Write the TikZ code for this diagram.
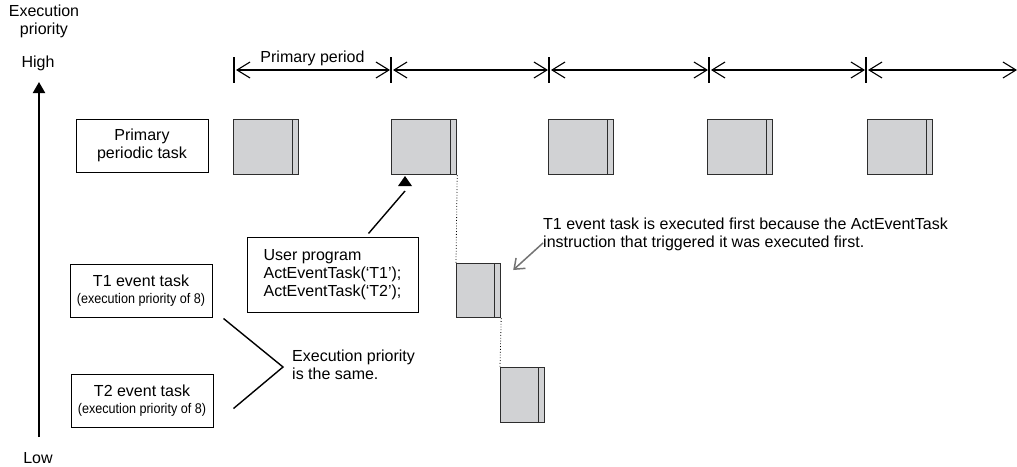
\documentclass[tikz,border=0pt]{standalone}
\usepackage{fontspec}
\setmainfont{Liberation Sans}
\newfontfamily\condfont[FakeStretch=0.9]{Liberation Sans}
\usepackage{xcolor}
\usetikzlibrary{arrows.meta,positioning}

\definecolor{blkgray}{RGB}{209,210,212}
\definecolor{blkedge}{RGB}{45,45,45}
\definecolor{notegray}{RGB}{115,115,115}

\newcommand{\bigtxt}{\fontsize{16}{18}\selectfont}
\newcommand{\smalltxt}{\condfont\fontsize{14}{15}\selectfont}

\begin{document}
\begin{tikzpicture}[x=1pt,y=-1pt,
    txt/.style={font=\bigtxt,inner sep=0pt,align=center},
    taskbox/.style={draw,line width=1pt,font=\bigtxt,align=center,
                    inner sep=0pt,minimum height=53pt},
    runblk/.style={draw=blkedge,fill=blkgray,line width=1.2pt,inner sep=0pt,
                   anchor=north west,minimum height=55pt},
    periodarr/.style={line width=1.1pt,shorten <=2pt,shorten >=1pt,
                      {Straight Barb[length=13pt,width=16pt]}-{Straight Barb[length=13pt,width=16pt]}}]
  \useasboundingbox (0,0) rectangle (1017,466);

  % priority axis
  \node[txt] (axlbl) at (44,21) {Execution\\priority};
  \node[txt] (high) at (38,63) {High};
  \node[txt] (low) at (38,458) {Low};
  \coordinate (axlo) at (39,437);
  \coordinate (axhi) at (39,82);
  \draw[line width=2pt,-{Triangle[length=11pt,width=12pt]}] (axlo) -- (axhi);

  % primary period marks
  \foreach \x [count=\i] in {234,391,549,709,866} {
    \coordinate (t\i) at (\x,70);
    \draw[line width=1.1pt] (\x,57) -- (\x,83);
  }
  \coordinate (tend) at (1017,70);
  \draw[periodarr] (t1) -- (t2) node[midway,above=4pt,txt] (plbl) {Primary period};
  \draw[periodarr] (t2) -- (t3);
  \draw[periodarr] (t3) -- (t4);
  \draw[periodarr] (t4) -- (t5);
  \draw[periodarr,shorten >=0pt] (t5) -- (tend);

  % task labels
  \node[taskbox,minimum width=132pt] (ptask) at (142,145.5) {Primary\\periodic task};
  \node[taskbox,minimum width=142pt] (t1box) at (141,290.5)
       {T1 event task\\[-1pt]{\smalltxt(execution priority of 8)}};
  \node[taskbox,minimum width=142pt] (t2box) at (142,400.5)
       {T2 event task\\[-1pt]{\smalltxt(execution priority of 8)}};

  % execution blocks
  \foreach \x [count=\i] in {233,391,548,707,867} {
    \node[runblk,minimum width=65pt] (p\i) at (\x,119) {};
    \draw[line width=1.2pt,blkedge] ([xshift=-7pt]p\i.north east) -- ([xshift=-7pt]p\i.south east);
  }
  \node[runblk,minimum width=44pt,minimum height=54pt] (t1blk) at (456,263) {};
  \draw[line width=1.2pt,blkedge] ([xshift=-7pt]t1blk.north east) -- ([xshift=-7pt]t1blk.south east);
  \node[runblk,minimum width=44pt] (t2blk) at (500,367) {};
  \draw[line width=1.2pt,blkedge] ([xshift=-7pt]t2blk.north east) -- ([xshift=-7pt]t2blk.south east);

  \draw[dotted,line width=0.8pt] (p2.south east) -- (t1blk.north west);
  \draw[dotted,line width=0.8pt] (t1blk.south east) -- (t2blk.north west);

  % user program
  \node[draw,line width=1pt,font=\bigtxt,align=left,inner sep=6pt,
        minimum width=171pt,minimum height=75pt] (prog) at (332.5,274.5)
       {User program\\ActEventTask(‘T1’);\\ActEventTask(‘T2’);};
  \fill (405,176) -- (398,186) -- (412,186) -- cycle;
  \coordinate (trig) at (405,191);
  \draw[line width=1.4pt] ([xshift=36pt,yshift=3pt]prog.north) -- (trig);

  % same priority bracket
  \coordinate (same) at (283,367);
  \draw[line width=1.4pt] ([xshift=11pt,yshift=-1pt]t1box.south east) -- (same)
       -- ([xshift=20pt,yshift=-8pt]t2box.east);
  \node[txt,align=left,anchor=west] (samelbl) at (292,365)
       {Execution priority\\is the same.};

  % note
  \node[txt,align=left,anchor=west] (note) at (543,234)
       {T1 event task is executed first because the ActEventTask\\instruction that triggered it was executed first.};
  \draw[notegray,line width=1.5pt,-{Straight Barb[length=9pt,width=14pt]}]
       ([yshift=-9pt]note.west) -- ([xshift=12pt,yshift=-7pt]t1blk.north east);
\end{tikzpicture}
\end{document}
